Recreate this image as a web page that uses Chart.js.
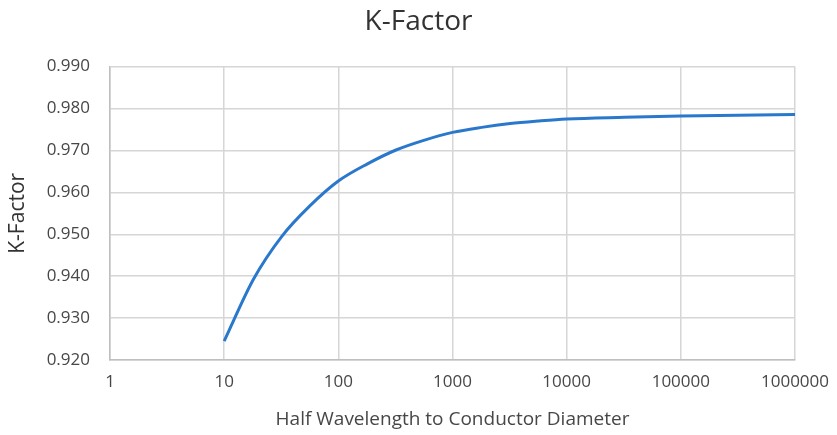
<!DOCTYPE html>
<html>
<head>
<meta charset="utf-8">
<script src="https://cdn.jsdelivr.net/npm/chart.js@4/dist/chart.umd.min.js"></script>
<style>
  html, body { margin: 0; padding: 0; background: #fff; }
  #wrap { width: 837px; height: 435px; }
</style>
</head>
<body>
<div id="wrap"><canvas id="kChart" width="837" height="435"></canvas></div>
<script>
// ratio of half wavelength to conductor diameter
var ratios = [10, 18, 32, 56, 100, 180, 320, 560, 1000, 1800, 3200, 5600, 10000, 32000, 100000, 320000, 1000000];
// k-factor
var kFactor = [0.9245, 0.9392, 0.9495, 0.9567, 0.9627, 0.9668, 0.9701, 0.9724, 0.9743, 0.9755, 0.9764, 0.9770, 0.9775, 0.9779, 0.9782, 0.9784, 0.9786];
// axis ticks
var xTicks = [1, 10, 100, 1000, 10000, 100000, 1000000];
var yTicks = [0.920, 0.930, 0.940, 0.950, 0.960, 0.970, 0.980, 0.990];

var points = ratios.map(function (r, i) { return { x: r, y: kFactor[i] }; });

var textColor = '#474747';
var gridColor = '#d6d6d6';
var fontFamily = '"Open Sans", Lato, sans-serif';

var ctx = document.getElementById('kChart');

var kChart = new Chart(ctx, {
  type: 'line',
  data: {
    datasets: [{
      label: 'K-Factor',
      data: points,
      borderColor: '#2a78cc',
      backgroundColor: '#2a78cc',
      borderWidth: 3,
      pointRadius: 0,
      cubicInterpolationMode: 'monotone',
      fill: false
    }]
  },
  options: {
    responsive: false,
    animation: false,
    layout: {
      padding: { top: 0, right: 0, bottom: 0, left: 0 }
    },
    plugins: {
      legend: { display: false },
      tooltip: { enabled: false },
      title: {
        display: true,
        text: 'K-Factor',
        color: '#333333',
        font: { family: fontFamily, size: 28, weight: 'normal' },
        padding: { top: 5, bottom: 28 }
      }
    },
    scales: {
      x: {
        type: 'logarithmic',
        min: xTicks[0],
        max: xTicks[xTicks.length - 1],
        afterBuildTicks: function (scale) {
          scale.ticks = xTicks.map(function (v) { return { value: v }; });
        },
        afterFit: function (scale) {
          scale.height = 75;
          scale.paddingLeft = 0;
          scale.paddingRight = 42;
        },
        ticks: {
          color: textColor,
          font: { family: fontFamily, size: 17 },
          padding: 12,
          maxRotation: 0,
          autoSkip: false,
          callback: function (v) { return String(v); }
        },
        grid: { color: gridColor, lineWidth: 1.5, drawTicks: false },
        border: { color: '#bfbfbf', width: 1.5 },
        title: {
          display: true,
          text: 'Half Wavelength to Conductor Diameter',
          color: textColor,
          font: { family: fontFamily, size: 19 },
          padding: { top: 0, bottom: 4 }
        }
      },
      y: {
        min: yTicks[0],
        max: yTicks[yTicks.length - 1],
        afterBuildTicks: function (scale) {
          scale.ticks = yTicks.map(function (v) { return { value: v }; });
        },
        afterFit: function (scale) {
          scale.width = 110;
          scale.paddingTop = 0;
          scale.paddingBottom = 0;
        },
        ticks: {
          color: textColor,
          font: { family: fontFamily, size: 17 },
          padding: 20,
          callback: function (v) { return Number(v).toFixed(3); }
        },
        grid: { color: gridColor, lineWidth: 1.5, drawTicks: false },
        border: { color: '#bfbfbf', width: 1.5 },
        title: {
          display: true,
          text: 'K-Factor',
          color: '#333333',
          font: { family: fontFamily, size: 21 },
          padding: { top: 5, bottom: 0 }
        }
      }
    }
  }
});
</script>
</body>
</html>
